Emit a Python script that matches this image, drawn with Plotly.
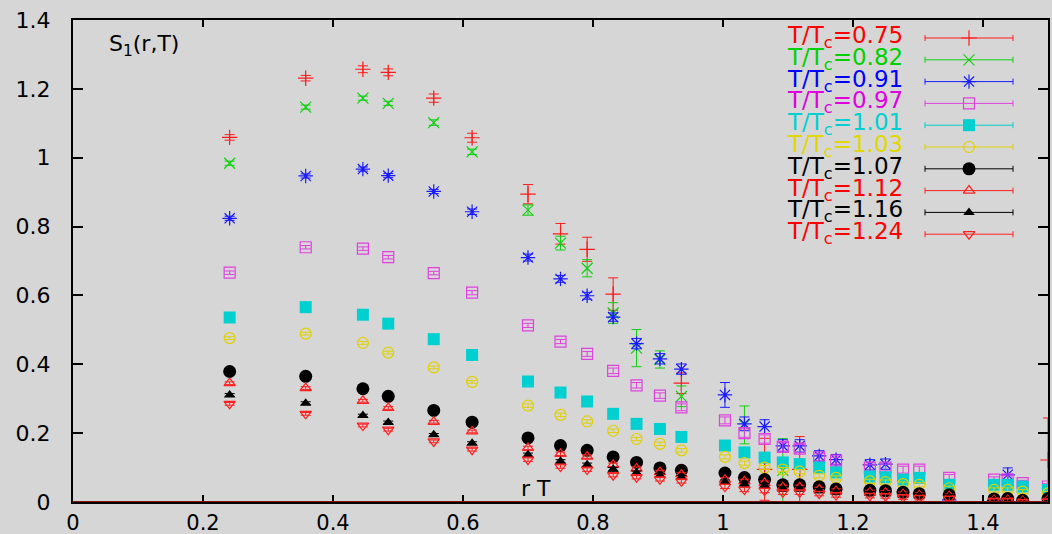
import plotly.graph_objects as go

# ---------------- data ----------------
r_T = [0.241, 0.358, 0.446, 0.485, 0.555, 0.614, 0.700, 0.750, 0.791, 0.831,
       0.867, 0.903, 0.936, 1.003, 1.033, 1.064, 1.092, 1.118, 1.148, 1.174,
       1.226, 1.250, 1.277, 1.302, 1.348, 1.417, 1.438, 1.461, 1.500]

s_075 = [1.059, 1.231, 1.257, 1.248, 1.173, 1.058, 0.894, 0.779, 0.734, 0.604,
         None, None, 0.345, None, None, 0.095, None, 0.095, None, None,
         None, None, None, None, None, None, None, None, 0.122]
e_075 = [0.008, 0.008, 0.010, 0.010, 0.012, 0.013, 0.028, 0.030, 0.035, 0.047,
         None, None, 0.030, None, None, 0.090, None, 0.095, None, None,
         None, None, None, None, None, None, None, None, 0.122]

s_082 = [0.984, 1.147, 1.173, 1.158, 1.102, 1.017, 0.848, 0.752, 0.679, 0.549,
         0.447, 0.414, 0.307, None, 0.224, None, 0.092, None, None, None,
         None, None, None, None, None, None, None, None, None]
e_082 = [0.006, 0.006, 0.006, 0.006, 0.008, 0.008, 0.015, 0.020, 0.025, 0.030,
         0.054, 0.025, 0.030, None, 0.055, None, 0.092, None, None, None,
         None, None, None, None, None, None, None, None, None]

s_091 = [0.824, 0.947, 0.967, 0.948, 0.902, 0.843, 0.710, 0.648, 0.599, 0.537,
         0.460, 0.416, 0.386, 0.311, 0.227, 0.219, 0.163, 0.163, 0.134, 0.123,
         0.108, 0.110, None, None, 0.006, 0.004, 0.079, None, None]
e_091 = [0.006, 0.006, 0.006, 0.006, 0.006, 0.008, 0.010, 0.010, 0.010, 0.012,
         0.015, 0.015, 0.015, 0.036, 0.020, 0.020, 0.018, 0.018, 0.015, 0.015,
         0.015, 0.015, None, None, 0.010, 0.010, 0.020, None, None]

s_097 = [0.666, 0.740, 0.736, 0.711, 0.665, 0.608, 0.513, 0.466, 0.430, 0.381,
         0.339, 0.309, 0.275, 0.237, 0.200, 0.183, 0.160, 0.155, 0.130, 0.120,
         0.100, 0.100, 0.094, 0.094, 0.070, 0.065, 0.066, 0.055, 0.045]
e_097 = [0.005, 0.005, 0.005, 0.005, 0.005, 0.006, 0.006, 0.006, 0.007, 0.008,
         0.008, 0.008, 0.010, 0.010, 0.012, 0.012, 0.012, 0.012, 0.010, 0.010,
         0.010, 0.010, 0.010, 0.010, 0.010, 0.008, 0.010, 0.008, 0.008]

s_101 = [0.536, 0.566, 0.544, 0.518, 0.473, 0.427, 0.350, 0.318, 0.292, 0.256,
         0.227, 0.212, 0.189, 0.164, 0.144, 0.129, 0.115, 0.110, 0.100, 0.086,
         0.074, 0.072, 0.065, 0.070, 0.050, 0.050, 0.050, 0.045, 0.035]

s_103 = [0.476, 0.489, 0.462, 0.434, 0.391, 0.349, 0.280, 0.253, 0.234, 0.207,
         0.183, 0.169, 0.150, 0.131, 0.113, 0.100, 0.094, 0.088, 0.076, 0.070,
         0.060, 0.058, 0.052, 0.050, 0.040, 0.035, 0.035, 0.030, 0.025]

s_107 = [0.379, 0.365, 0.329, 0.307, 0.266, 0.232, 0.186, 0.164, 0.150, 0.131,
         0.115, 0.099, 0.092, 0.084, 0.071, 0.065, 0.050, 0.050, 0.044, 0.038,
         0.034, 0.033, 0.028, 0.024, 0.021, 0.009, 0.010, 0.005, 0.010]

s_112 = [0.345, 0.331, 0.294, 0.273, 0.233, 0.205, 0.157, 0.140, 0.132, 0.108,
         0.097, 0.087, 0.080, 0.065, 0.060, 0.055, 0.043, 0.043, 0.037, 0.032,
         0.028, 0.027, 0.023, 0.020, 0.017, 0.006, 0.006, 0.003, 0.006]

s_116 = [0.311, 0.287, 0.251, 0.231, 0.195, 0.171, 0.137, 0.118, 0.108, 0.095,
         0.085, 0.077, 0.072, 0.058, 0.052, 0.048, 0.038, 0.038, 0.033, 0.028,
         0.025, 0.024, 0.020, 0.018, 0.015, 0.005, 0.005, 0.002, 0.005]

s_124 = [0.285, 0.256, 0.222, 0.210, 0.176, 0.152, 0.123, 0.103, 0.094, 0.078,
         0.072, 0.066, 0.060, 0.045, 0.036, 0.033, 0.028, 0.028, 0.024, 0.020,
         0.018, 0.017, 0.014, 0.012, 0.010, 0.003, 0.003, 0.000, 0.002]

e_low = [0.004, 0.004, 0.004, 0.004, 0.004, 0.004, 0.005, 0.005, 0.005, 0.005,
         0.005, 0.005, 0.005, 0.006, 0.006, 0.006, 0.006, 0.006, 0.006, 0.006,
         0.006, 0.006, 0.006, 0.006, 0.006, 0.006, 0.006, 0.006, 0.006]

legend_labels = ["0.75", "0.82", "0.91", "0.97", "1.01", "1.03", "1.07", "1.12", "1.16", "1.24"]

x_ticks = [0, 0.2, 0.4, 0.6, 0.8, 1.0, 1.2, 1.4]
y_ticks = [0, 0.2, 0.4, 0.6, 0.8, 1.0, 1.2, 1.4]
tick_text = ["0", "0.2", "0.4", "0.6", "0.8", "1", "1.2", "1.4"]

# ---------------- styling ----------------
FONT = "DejaVu Sans"
BG = "#d6d6d6"

series = [
    (s_075, e_075, "#ff1a1a", "cross-thin-open", 11),
    (s_082, e_082, "#10d010", "x-thin-open", 11),
    (s_091, e_091, "#1a1aff", "asterisk-open", 12),
    (s_097, e_097, "#e040e0", "square-open", 11),
    (s_101, e_low, "#00d0d0", "square", 12),
    (s_103, e_low, "#e0d000", "circle-open", 11),
    (s_107, e_low, "#000000", "circle", 13),
    (s_112, e_low, "#ff2020", "triangle-up-open", 10),
    (s_116, e_low, "#000000", "triangle-up", 10),
    (s_124, e_low, "#ff2020", "triangle-down-open", 10),
]
text_colors = ["#ff0000", "#00d000", "#0000ff", "#e000e0", "#00d0d0",
               "#e0d800", "#000000", "#ff0000", "#000000", "#ff0000"]

fig = go.Figure()

for vals, errs, col, sym, size in series:
    filled = sym in ("square", "circle", "triangle-up")
    fig.add_trace(go.Scatter(
        x=r_T, y=vals, mode="markers", showlegend=False,
        marker=dict(symbol=sym, size=size, color=col,
                    line=dict(color=col, width=0 if filled else 1.2)),
        error_y=dict(type="data", array=errs, visible=True,
                     color=col, thickness=1, width=5),
    ))

# custom gnuplot-style key (text on the left, sample on the right),
# laid out on an overlay axis measured in pixels
key_top = 38
key_step = 21.8
for i, (lab, (vals, errs, col, sym, size)) in enumerate(zip(legend_labels, series)):
    ky = key_top + i * key_step
    filled = sym in ("square", "circle", "triangle-up")
    fig.add_trace(go.Scatter(
        x=[969], y=[ky], mode="markers", showlegend=False,
        xaxis="x2", yaxis="y2", hoverinfo="skip",
        marker=dict(symbol=sym, size=size, color=col,
                    line=dict(color=col, width=0 if filled else 1.2)),
        error_x=dict(type="constant", value=44, visible=True,
                     color=col, thickness=1, width=3),
    ))
    fig.add_annotation(
        x=905, y=ky - 1, xref="x2", yref="y2", xanchor="right", yanchor="middle",
        text=f"T/T<sub>c</sub>={lab}", showarrow=False,
        font=dict(family=FONT, size=23, color=text_colors[i]),
    )

fig.add_annotation(
    x=0.035, y=0.948, xref="paper", yref="paper", xanchor="left", yanchor="middle",
    text="S<sub>1</sub>(r,T)", showarrow=False,
    font=dict(family=FONT, size=22, color="#000000"),
)
fig.add_annotation(
    x=0.712, y=0.038, xref="x", yref="y", xanchor="center", yanchor="middle",
    text="r T", showarrow=False,
    font=dict(family=FONT, size=22, color="#000000"),
)

# red line along y = 0
fig.add_shape(type="line", xref="paper", yref="y", x0=0, x1=1, y0=0, y1=0,
              line=dict(color="#8b1010", width=2), layer="above")

axis_common = dict(
    showgrid=False, zeroline=False, showline=True, linecolor="#000000",
    linewidth=2, mirror="ticks", ticks="inside", tickcolor="#000000",
    tickwidth=1.5, automargin=False,
)

fig.update_layout(
    width=1052, height=534,
    margin=dict(l=73, r=4, t=20, b=32, autoexpand=False),
    paper_bgcolor=BG, plot_bgcolor=BG,
    xaxis=dict(range=[0, 1.5], tickvals=x_ticks, ticktext=tick_text,
               ticklen=7, ticklabelstandoff=1,
               tickfont=dict(family=FONT, size=21, color="#000000"),
               **axis_common),
    yaxis=dict(range=[0, 1.4], tickvals=y_ticks, ticktext=tick_text,
               ticklen=10, ticklabelstandoff=16,
               tickfont=dict(family=FONT, size=22, color="#000000"),
               **axis_common),
    xaxis2=dict(overlaying="x", range=[73, 1048], visible=False, anchor="y2"),
    yaxis2=dict(overlaying="y", range=[502, 20], visible=False, anchor="x2"),
)

fig.write_html("out.html")
